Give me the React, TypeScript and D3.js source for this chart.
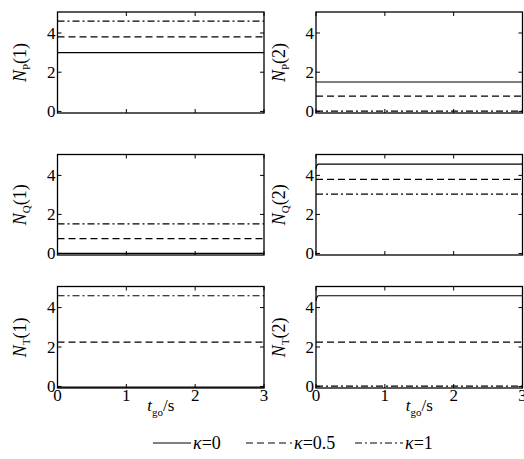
import React from "react";
import * as d3 from "d3";

const kappas = ["0", "0.5", "1"];
const dashes = ["none", "7,4", "7,3,2,3"];
const tTicks = [0, 1, 2, 3];
const yTicks = [0, 2, 4];

const panelNames = [
  { sub: "P", idx: "1" },
  { sub: "P", idx: "2" },
  { sub: "Q", idx: "1" },
  { sub: "Q", idx: "2" },
  { sub: "T", idx: "1" },
  { sub: "T", idx: "2" },
];
const NP1 = [[[0, 3.0], [3, 3.0]], [[0, 3.8], [3, 3.8]], [[0, 4.6], [3, 4.6]]];
const NP2 = [[[0, 1.5], [3, 1.5]], [[0, 0.78], [3, 0.78]], [[0, 0.02], [3, 0.02]]];
const NQ1 = [[[0, 0.0], [3, 0.0]], [[0, 0.76], [3, 0.76]], [[0, 1.51], [3, 1.51]]];
const NQ2 = [[[0, 4.35], [0.01, 4.5], [0.03, 4.58], [3, 4.58]], [[0, 3.8], [3, 3.8]], [[0, 3.04], [3, 3.04]]];
const NT1 = [[[0, -0.04], [3, -0.04]], [[0, 2.25], [3, 2.25]], [[0, 4.6], [3, 4.6]]];
const NT2 = [[[0, 4.35], [0.01, 4.5], [0.03, 4.6], [3, 4.6]], [[0, 2.25], [3, 2.25]], [[0, 0.02], [3, 0.02]]];
const panelData = [NP1, NP2, NQ1, NQ2, NT1, NT2];

const colX = [[57.5, 264], [316, 522.5]];
const rowY = [[12, 113], [154.5, 255], [286.5, 388]];
const FONT = "Liberation Serif, DejaVu Serif, serif";

function Panel({ i }: { i: number }) {
  const col = i % 2;
  const row = Math.floor(i / 2);
  const [x0, x1] = colX[col];
  const [y0, y1] = rowY[row];
  const x = d3.scaleLinear().domain([0, 3]).range([x0, x1]);
  const y = d3.scaleLinear().domain([-0.08, 5.07]).range([y1, y0]);
  const line = d3.line<number[]>().x((d) => x(d[0])).y((d) => y(d[1]));
  const name = panelNames[i];
  const cx = col === 0 ? 26 : 285;
  const cy = (y0 + y1) / 2;
  return (
    <g>
      {panelData[i].map((s, k) => (
        <path key={k} d={line(s) || ""} fill="none" stroke="#000" strokeWidth={1.2} strokeDasharray={dashes[k]} />
      ))}
      <rect x={x0} y={y0} width={x1 - x0} height={y1 - y0} fill="none" stroke="#000" strokeWidth={1.3} />
      {yTicks.map((t) => (
        <g key={"y" + t}>
          <line x1={x0} x2={x0 + 4} y1={y(t)} y2={y(t)} stroke="#000" />
          <line x1={x1} x2={x1 - 4} y1={y(t)} y2={y(t)} stroke="#000" />
          <text x={x0 - 2} y={y(t)} dy="0.33em" textAnchor="end" fontSize={17}>{t}</text>
        </g>
      ))}
      {tTicks.map((t) => (
        <g key={"x" + t}>
          <line x1={x(t)} x2={x(t)} y1={y0} y2={y0 + 4} stroke="#000" />
          <line x1={x(t)} x2={x(t)} y1={y1} y2={y1 - 4} stroke="#000" />
          {row === 2 && (
            <text x={x(t)} y={401} textAnchor="middle" fontSize={17}>{t}</text>
          )}
        </g>
      ))}
      {row === 2 && (
        <text x={(x0 + x1) / 2} y={411} textAnchor="middle" fontSize={17}>
          <tspan fontStyle="italic">t</tspan>
          <tspan fontSize={11} dy={5}>go</tspan>
          <tspan dy={-5}>/s</tspan>
        </text>
      )}
      <text transform={`translate(${cx},${cy}) rotate(-90)`} textAnchor="middle" fontSize={18}>
        <tspan fontStyle="italic">N</tspan>
        <tspan fontSize={11} dy={4}>{name.sub}</tspan>
        <tspan dy={-4}>({name.idx})</tspan>
      </text>
    </g>
  );
}

export default function App() {
  const legendItems = [
    { x1: 153, x2: 191, tx: 193 },
    { x1: 246, x2: 292, tx: 294 },
    { x1: 355, x2: 403, tx: 405 },
  ];
  return (
    <svg
      width={524}
      height={459}
      fontFamily={FONT}
      style={{ position: "absolute", left: 0, top: 0, background: "#fff", fontFamily: FONT }}
    >
      <rect width={524} height={459} fill="#fff" />
      {panelData.map((_, i) => (
        <Panel key={i} i={i} />
      ))}
      {legendItems.map((l, k) => (
        <g key={k}>
          <line x1={l.x1} x2={l.x2} y1={443} y2={443} stroke="#000" strokeWidth={1.2} strokeDasharray={dashes[k]} />
          <text x={l.tx} y={443} dy="0.35em" fontSize={18}>
            <tspan fontStyle="italic">κ</tspan>={kappas[k]}
          </text>
        </g>
      ))}
    </svg>
  );
}
